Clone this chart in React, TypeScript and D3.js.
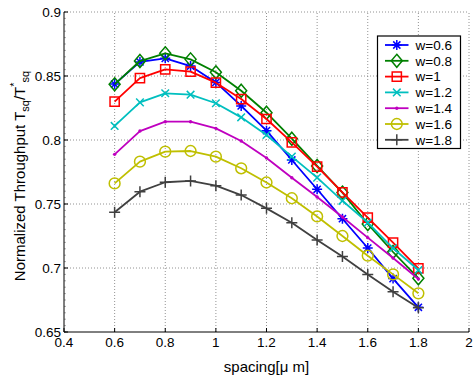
import React from "react";
import * as d3 from "d3";

const spacing = [0.6, 0.7, 0.8, 0.9, 1.0, 1.1, 1.2, 1.3, 1.4, 1.5, 1.6, 1.7, 1.8];
const w06 = [0.8437, 0.861, 0.8638, 0.8578, 0.845, 0.8266, 0.8073, 0.7844, 0.7615, 0.7385, 0.7156, 0.6917, 0.6693];
const w08 = [0.8435, 0.8617, 0.8677, 0.863, 0.8529, 0.8385, 0.8213, 0.801, 0.7797, 0.7589, 0.7344, 0.7125, 0.692];
const w10 = [0.83, 0.8484, 0.8552, 0.8534, 0.8448, 0.832, 0.8164, 0.7982, 0.7792, 0.7591, 0.7394, 0.7198, 0.6997];
const w12 = [0.811, 0.8294, 0.8365, 0.8354, 0.8287, 0.8177, 0.8039, 0.787, 0.7706, 0.7525, 0.7354, 0.7154, 0.6984];
const w14 = [0.7888, 0.807, 0.8143, 0.8143, 0.8091, 0.7992, 0.786, 0.7705, 0.7555, 0.7398, 0.7237, 0.7078, 0.6914];
const w16 = [0.7661, 0.7831, 0.7909, 0.7914, 0.787, 0.7779, 0.7668, 0.7545, 0.7403, 0.725, 0.7096, 0.695, 0.6802];
const w18 = [0.7435, 0.7596, 0.767, 0.768, 0.7643, 0.757, 0.7466, 0.7354, 0.7219, 0.7089, 0.695, 0.6815, 0.669];

const seriesNames = ["w=0.6", "w=0.8", "w=1", "w=1.2", "w=1.4", "w=1.6", "w=1.8"];
const seriesValues = [w06, w08, w10, w12, w14, w16, w18];
const seriesColors = ["#0000ff", "#008000", "#ff0000", "#00bfbf", "#bf00bf", "#bfbf00", "#404040"];
const seriesMarkers = ["star", "diamond", "square", "x", "dot", "circle", "plus"];

const xTicks = [0.4, 0.6, 0.8, 1, 1.2, 1.4, 1.6, 1.8, 2];
const xTickLabels = ["0.4", "0.6", "0.8", "1", "1.2", "1.4", "1.6", "1.8", "2"];
const yTicks = [0.65, 0.7, 0.75, 0.8, 0.85, 0.9];
const yTickLabels = ["0.65", "0.7", "0.75", "0.8", "0.85", "0.9"];

const W = 473, H = 382;
const L = 64, R = 469, T = 12, B = 332;
const FONT = "'Liberation Sans', Arial, Helvetica, sans-serif";

function Marker({ type, color }: { type: string; color: string }) {
  const sw = 1.5;
  switch (type) {
    case "star":
      return <path d="M-5,0H5M0,-5V5M-3.6,-3.6L3.6,3.6M-3.6,3.6L3.6,-3.6" stroke={color} strokeWidth={sw} fill="none" />;
    case "diamond":
      return <path d="M0,-6.5L5.5,0L0,6.5L-5.5,0Z" stroke={color} strokeWidth={sw} fill="none" />;
    case "square":
      return <path d="M-4.6,-4.6H4.6V4.6H-4.6Z" stroke={color} strokeWidth={sw} fill="none" />;
    case "x":
      return <path d="M-3.8,-3.8L3.8,3.8M-3.8,3.8L3.8,-3.8" stroke={color} strokeWidth={sw} fill="none" />;
    case "dot":
      return <circle r={1.7} fill={color} />;
    case "circle":
      return <circle r={5.4} stroke={color} strokeWidth={sw} fill="none" />;
    case "plus":
      return <path d="M-5.5,0H5.5M0,-5.5V5.5" stroke={color} strokeWidth={sw} fill="none" />;
  }
  return null;
}

export default function App() {
  const x = d3.scaleLinear().domain([0.4, 2]).range([L, R]);
  const y = d3.scaleLinear().domain([0.65, 0.9]).range([B, T]);
  const line = d3.line<number>().x((_, i) => x(spacing[i])).y((d) => y(d));
  const minor = d3.range(0.65, 0.9001, 0.005);

  const legX = 377.5, legY = 36, legW = 83, legH = 112.5;
  const legStep = 15.8;

  return (
    <svg width={W} height={H} style={{ position: "absolute", left: 0, top: 0, background: "#fff" }} fontFamily={FONT}>
      <rect x={0} y={0} width={W} height={H} fill="#fff" />
      {/* grid */}
      {xTicks.slice(1).map((t) => (
        <line key={"gx" + t} x1={x(t)} x2={x(t)} y1={B} y2={T} stroke="#777" strokeWidth={0.8} strokeDasharray="1,2" />
      ))}
      {yTicks.slice(1).map((t) => (
        <line key={"gy" + t} x1={L} x2={R} y1={y(t)} y2={y(t)} stroke="#777" strokeWidth={0.8} strokeDasharray="1,2" />
      ))}
      {/* minor ticks on y axis */}
      {minor.map((t, i) => (
        <line key={"my" + i} x1={L} x2={L + 2} y1={y(t)} y2={y(t)} stroke="#777" strokeWidth={0.6} />
      ))}
      {/* axes */}
      <line x1={L} x2={L} y1={T} y2={B} stroke="#000" strokeWidth={1} />
      <line x1={L} x2={R} y1={B} y2={B} stroke="#000" strokeWidth={1} />
      {xTicks.map((t) => (
        <line key={"tx" + t} x1={x(t)} x2={x(t)} y1={B} y2={B - 4} stroke="#000" strokeWidth={1} />
      ))}
      {yTicks.map((t) => (
        <line key={"ty" + t} x1={L} x2={L + 4} y1={y(t)} y2={y(t)} stroke="#000" strokeWidth={1} />
      ))}
      {/* tick labels */}
      {xTicks.map((t, i) => (
        <text key={"lx" + t} x={x(t)} y={346.5} fontSize={13.5} textAnchor="middle" fill="#000">
          {xTickLabels[i]}
        </text>
      ))}
      {yTicks.map((t, i) => (
        <text key={"ly" + t} x={61} y={y(t) + 4.8} fontSize={13.5} textAnchor="end" fill="#000">
          {yTickLabels[i]}
        </text>
      ))}
      {/* axis labels */}
      <text x={266.5} y={372} fontSize={15} textAnchor="middle" fill="#000">spacing[μ m]</text>
      <text transform="translate(25,176) rotate(-90)" fontSize={15} textAnchor="middle" fill="#000">
        Normalized Throughput T
        <tspan fontSize={11} dy={4}>sq</tspan>
        <tspan dy={-4}>/T</tspan>
        <tspan fontSize={11} dy={-7}>*</tspan>
        <tspan fontSize={11} dy={11}>sq</tspan>
      </text>
      {/* series */}
      {seriesValues.map((vals, si) => (
        <g key={"s" + si}>
          <path d={line(vals) || ""} fill="none" stroke={seriesColors[si]} strokeWidth={1.8} strokeLinejoin="round" />
          {vals.map((v, i) => (
            <g key={i} transform={`translate(${x(spacing[i])},${y(v)})`}>
              <Marker type={seriesMarkers[si]} color={seriesColors[si]} />
            </g>
          ))}
        </g>
      ))}
      {/* legend */}
      <rect x={legX} y={legY} width={legW} height={legH} fill="#fff" stroke="#000" strokeWidth={1.2} />
      {seriesNames.map((n, i) => {
        const cy = legY + 9 + i * legStep;
        return (
          <g key={"lg" + i}>
            <line x1={385} x2={408.5} y1={cy} y2={cy} stroke={seriesColors[i]} strokeWidth={1.8} />
            <g transform={`translate(396.8,${cy})`}>
              <Marker type={seriesMarkers[i]} color={seriesColors[i]} />
            </g>
            <text x={415.5} y={cy + 4.8} fontSize={13.5} fill="#000">{n}</text>
          </g>
        );
      })}
    </svg>
  );
}
